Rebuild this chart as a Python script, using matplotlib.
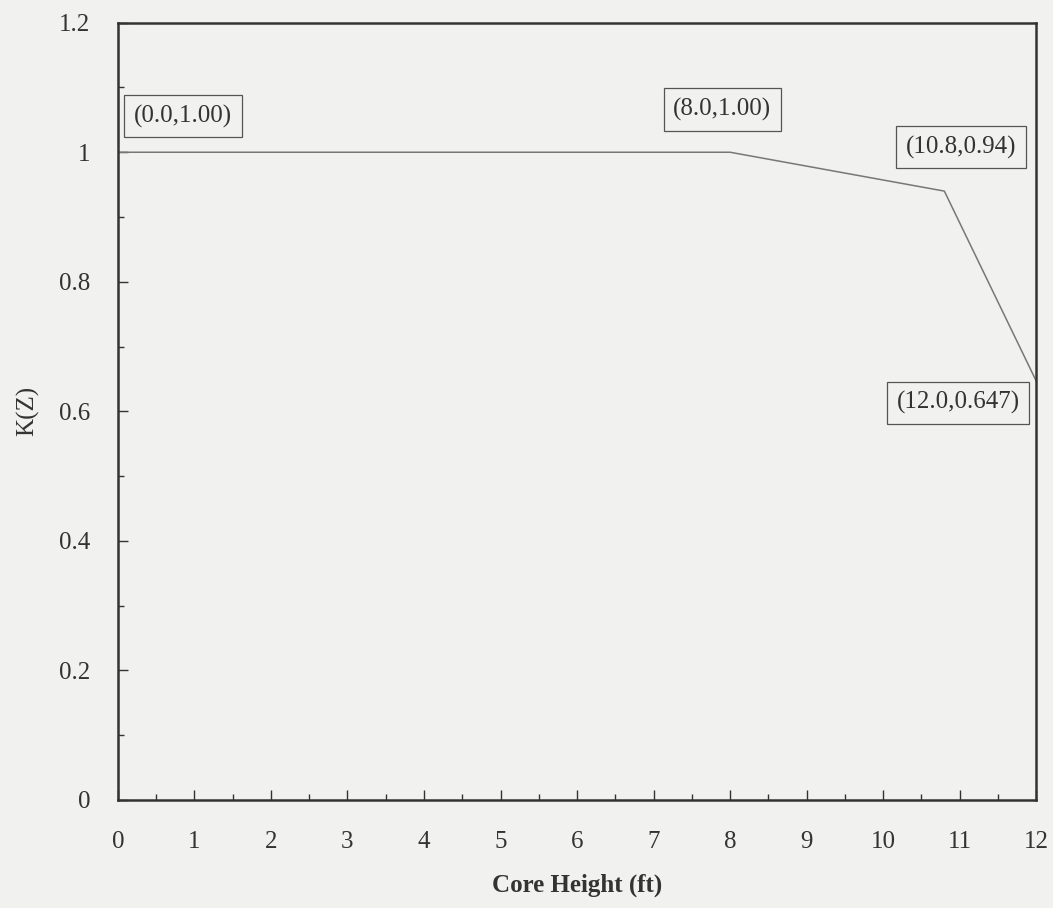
import matplotlib.pyplot as plt
from matplotlib.ticker import MultipleLocator

# K(Z) profile over the core height
visina = [0.0, 8.0, 10.8, 12.0]
kz = [1.00, 1.00, 0.94, 0.647]
oznake = ["(0.0,1.00)", "(8.0,1.00)", "(10.8,0.94)", "(12.0,0.647)"]
# where each label box sits (data coordinates)
pozicije = [(0.85, 1.056), (7.9, 1.066), (11.02, 1.008), (10.98, 0.613)]

plt.rcParams['font.family'] = ['Liberation Serif', 'DejaVu Serif']

pozadina = '#f1f1ef'
fig = plt.figure(figsize=(10.53, 9.08), dpi=100, facecolor=pozadina)
ax = fig.add_axes([0.112, 0.119, 0.872, 0.856], facecolor=pozadina)

ax.plot(visina, kz, color='#777777', linewidth=1.1)

for tekst, (x, y) in zip(oznake, pozicije):
	ax.text(x, y, tekst, ha='center', va='center', fontsize=18, color='#333333',
		bbox=dict(boxstyle='square,pad=0.38', facecolor='none', edgecolor='#555555', linewidth=0.9))

ax.set_xlim(0, 12)
ax.set_ylim(0, 1.2)
ax.xaxis.set_major_locator(MultipleLocator(1))
ax.xaxis.set_minor_locator(MultipleLocator(0.5))
ax.yaxis.set_major_locator(MultipleLocator(0.2))
ax.yaxis.set_minor_locator(MultipleLocator(0.1))
ax.set_yticks([0, 0.2, 0.4, 0.6, 0.8, 1.0, 1.2])
ax.set_yticklabels(["0", "0.2", "0.4", "0.6", "0.8", "1", "1.2"])

ax.tick_params(which='both', direction='in', colors='#333333', labelsize=18, width=1.0)
ax.tick_params(which='major', length=7)
ax.tick_params(which='minor', length=4)
ax.tick_params(axis='x', pad=22)
ax.tick_params(axis='y', pad=20)
for s in ax.spines.values():
	s.set_linewidth(1.8)
	s.set_color('#333333')

ax.set_xlabel("Core Height (ft)", fontsize=18, fontweight='bold', color='#333333', labelpad=15)
ax.set_ylabel("K(Z)", fontsize=18, color='#333333', labelpad=14)

plt.savefig("out.png", dpi=100, facecolor=pozadina)
